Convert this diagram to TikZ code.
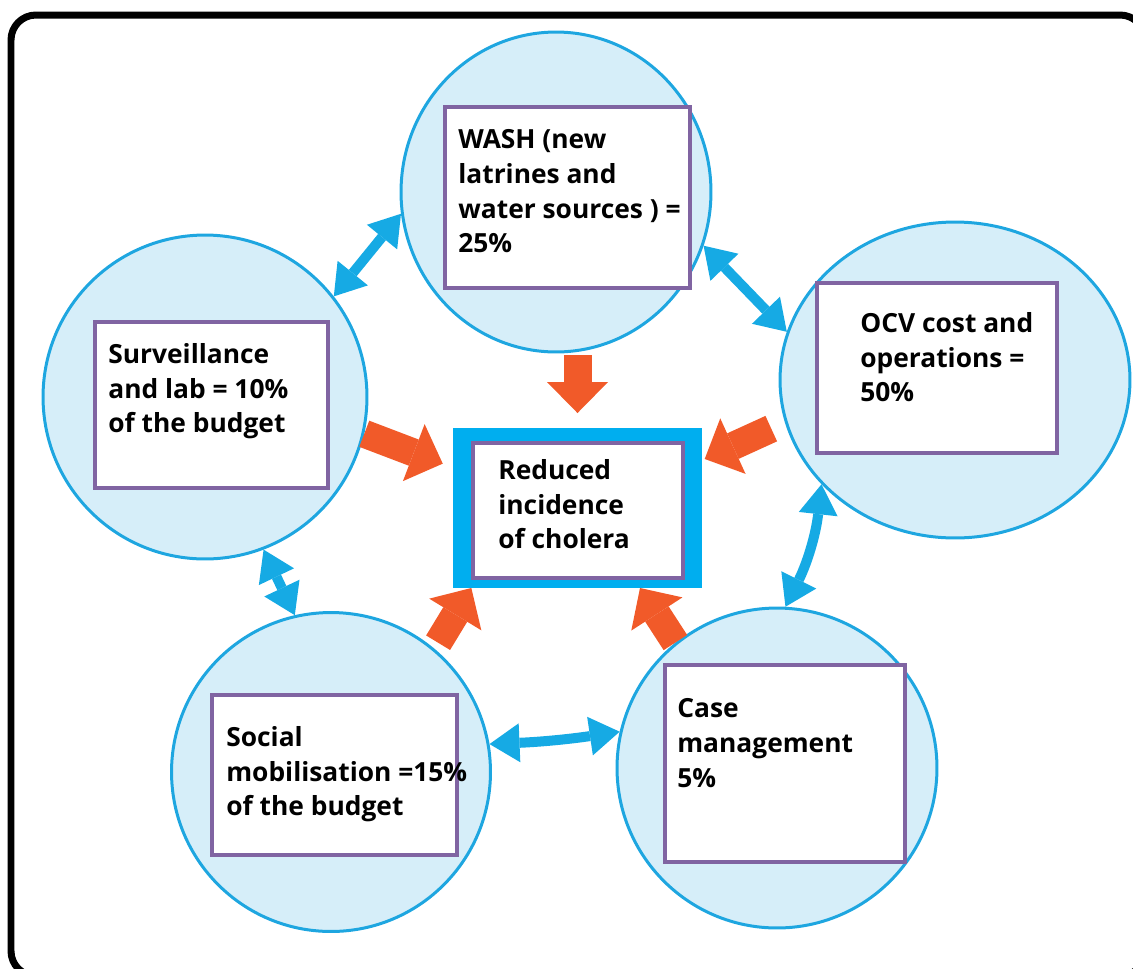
\documentclass[tikz,border=0pt]{standalone}
\usepackage{fontspec}
\setmainfont{Open Sans}
\usetikzlibrary{arrows.meta,calc,shapes.geometric}

\definecolor{bubbleline}{RGB}{30,166,224}
\definecolor{bubblefill}{RGB}{214,238,249}
\definecolor{boxpurple}{RGB}{128,100,162}
\definecolor{goalcyan}{RGB}{0,174,239}
\definecolor{pushorange}{RGB}{241,90,41}
\definecolor{linkcyan}{RGB}{22,170,228}

\tikzset{
  bubble/.style={ellipse,draw=bubbleline,fill=bubblefill,line width=0.06cm,inner sep=0pt},
  budgetbox/.style={draw=boxpurple,fill=white,line width=0.08cm,inner sep=0pt},
  boxtext/.style={anchor=north west,align=left,inner sep=0pt,font=\bfseries\fontsize{15}{19.8}\selectfont},
  push/.style={draw=pushorange,line width=0.56cm,-{Triangle[length=0.62cm,width=1.22cm,line width=0pt]}},
  link/.style={draw=linkcyan,line width=0.2cm,{Triangle[length=0.6cm,width=0.78cm,line width=0pt]}-{Triangle[length=0.6cm,width=0.78cm,line width=0pt]}}
}

\begin{document}
\begin{tikzpicture}[x=0.02cm,y=-0.02cm]
\clip (0,0) rectangle (1133,968);

\draw [line width=0.14cm,rounded corners=0.5cm] (11,15) rectangle (1145,976);

\node [bubble,minimum width=6.2cm,minimum height=6.4cm] at (556,192) (wash) {};

\node [bubble,minimum width=7cm,minimum height=6.32cm] at (955,380) (ocv) {};

\node [bubble,minimum width=6.48cm,minimum height=6.48cm] at (205,397) (surv) {};

\node [bubble,minimum width=6.38cm,minimum height=6.38cm] at (331,772) (social) {};

\node [bubble,minimum width=6.4cm,minimum height=6.4cm] at (777,768) (case) {};

\node [budgetbox,minimum width=4.9cm,minimum height=3.62cm] at (567.5,197.5) (washbox) {};

\node [budgetbox,minimum width=4.8cm,minimum height=3.4cm] at (937,368) (ocvbox) {};

\node [budgetbox,minimum width=4.66cm,minimum height=3.32cm] at (211.5,405) (survbox) {};

\node [budgetbox,minimum width=4.9cm,minimum height=3.2cm] at (334.5,775) (socialbox) {};

\node [budgetbox,minimum width=4.8cm,minimum height=3.94cm] at (785,763.5) (casebox) {};

\node [fill=goalcyan,outer sep=0pt,inner sep=0pt,minimum width=4.98cm,minimum height=3.2cm] at (577.5,508) (goalframe) {};

\node [budgetbox,minimum width=4.2cm,minimum height=2.7cm] at (578,510.5) (goalbox) {};

\node [boxtext] at (458,129) (washtext) {WASH (new\\latrines and\\water sources ) =\\25\%};

\node [boxtext] at (860,312) (ocvtext) {OCV cost and\\operations =\\50\%};

\node [boxtext] at (108,343) (survtext) {Surveillance\\and lab = 10\%\\of the budget};

\node [boxtext] at (498,459) (goaltext) {Reduced\\incidence\\of cholera};

\node [boxtext] at (226,726) (socialtext) {Social\\mobilisation =15\%\\of the budget};

\node [boxtext] at (677,698) (casetext) {Case\\management\\5\%};

\draw [push,shorten <=0.04cm,shorten >=0.3cm] (wash.south -| goalframe.north) -- (goalframe.north);

\draw [push,shorten >=0.22cm] (surv.-13) -- (goalframe.162.6);

\draw [push,shorten <=0.3cm,shorten >=0.06cm] (ocv.194.3) -- (goalframe.21.3);

\draw [push,shorten <=0.14cm] (social.50.3) -- (goalframe.217.2);

\draw [push] (case.129.7) -- (goalframe.-52);

\draw [link] (surv.38.6) -- (wash.188.1);

\draw [link] (wash.-20.7) -- (ocv.164.4);

\draw [link,bend left=10] (ocv.218.1) to (case.87.1);

\draw [link,bend left=3] (case.167.2) to (social.10.1);

\draw [link] (social.103.9) -- (surv.-69.2);
\end{tikzpicture}
\end{document}
